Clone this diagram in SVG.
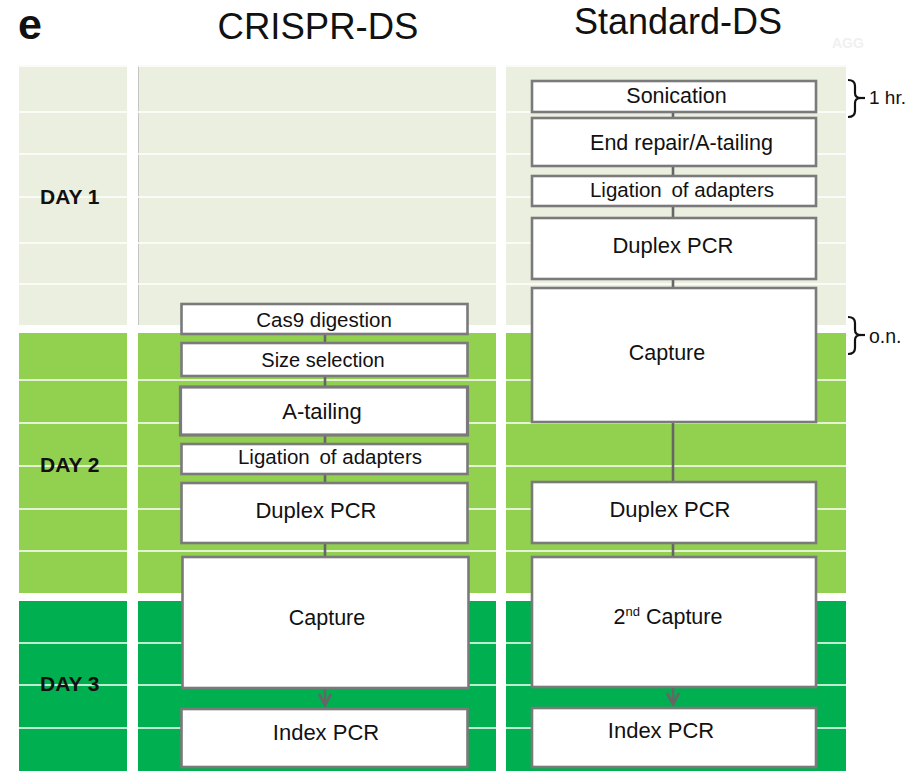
<svg xmlns="http://www.w3.org/2000/svg" width="910" height="771" viewBox="0 0 910 771">
<defs>
<style>
text{font-family:"Liberation Sans",Arial,sans-serif;fill:#111;}
.lbl{font-size:21.5px;text-anchor:middle;}
.day{font-size:21px;font-weight:bold;}
.box{fill:#fff;stroke:#7a7a7a;stroke-width:2.6;}
.con{stroke:#666;stroke-width:2.6;fill:none;}
.row{stroke:#fff;stroke-width:1.6;}
.d1{fill:#ebefdf;}
.d2{fill:#92d050;}
.d3{fill:#00b050;}
.brace{fill:none;stroke:#111;stroke-width:2.2;}
</style>
<marker id="chev" viewBox="-14 -8 16 16" markerWidth="16" markerHeight="16" refX="0" refY="0" orient="auto" markerUnits="userSpaceOnUse">
<path d="M-12,-6 L-1,0 L-12,6" fill="none" stroke="#666" stroke-width="2.8"/>
</marker>
</defs>
<rect width="910" height="771" fill="#fff"/>

<g id="background">
<rect class="d1" x="19" y="65" width="108" height="260"/>
<rect class="d1" x="138" y="65" width="358" height="260"/>
<rect class="d1" x="506" y="65" width="340" height="260"/>
<rect class="d2" x="19" y="333" width="108" height="260"/>
<rect class="d2" x="138" y="333" width="358" height="260"/>
<rect class="d2" x="506" y="333" width="340" height="260"/>
<rect class="d3" x="19" y="601" width="108" height="170"/>
<rect class="d3" x="138" y="601" width="358" height="170"/>
<rect class="d3" x="506" y="601" width="340" height="170"/>
<line x1="138.5" y1="65" x2="138.5" y2="325" stroke="#c4c4c4" stroke-width="1"/>
<g class="row">
<line x1="19" y1="66" x2="846" y2="66"/>
<line x1="19" y1="112" x2="846" y2="112"/>
<line x1="19" y1="154" x2="846" y2="154"/>
<line x1="19" y1="197" x2="846" y2="197"/>
<line x1="19" y1="243" x2="846" y2="243"/>
<line x1="19" y1="284" x2="846" y2="284"/>
<line x1="19" y1="380" x2="846" y2="380"/>
<line x1="19" y1="423" x2="846" y2="423"/>
<line x1="19" y1="466" x2="846" y2="466"/>
<line x1="19" y1="509" x2="846" y2="509"/>
<line x1="19" y1="551" x2="846" y2="551"/>
<line x1="19" y1="643" x2="846" y2="643"/>
<line x1="19" y1="685" x2="846" y2="685"/>
<line x1="19" y1="728" x2="846" y2="728"/>
</g>
</g>

<g id="titles">
<text x="18" y="39" style="font-size:43px;font-weight:bold;">e</text>
<text x="318" y="39" style="font-size:36.5px;text-anchor:middle;">CRISPR-DS</text>
<text x="678" y="34" style="font-size:36px;text-anchor:middle;">Standard-DS</text>
<text x="832" y="48" style="font-size:14px;font-weight:bold;fill:#f0f0f0;">AGG</text>
</g>

<g id="days">
<text class="day" x="40" y="204">DAY 1</text>
<text class="day" x="40" y="472">DAY 2</text>
<text class="day" x="40" y="691">DAY 3</text>
</g>

<g id="connectors">
<line class="con" x1="325" y1="334" x2="325" y2="343"/>
<line class="con" x1="325" y1="376" x2="325" y2="387"/>
<line class="con" x1="325" y1="435" x2="325" y2="444"/>
<line class="con" x1="325" y1="474" x2="325" y2="483"/>
<line class="con" x1="325" y1="543" x2="325" y2="557"/>
<line class="con" x1="325" y1="688" x2="325" y2="706" marker-end="url(#chev)"/>
<line class="con" x1="673" y1="112" x2="673" y2="118"/>
<line class="con" x1="673" y1="166" x2="673" y2="176"/>
<line class="con" x1="673" y1="206" x2="673" y2="218"/>
<line class="con" x1="673" y1="279" x2="673" y2="288"/>
<line class="con" x1="673" y1="422" x2="673" y2="482"/>
<line class="con" x1="673" y1="543" x2="673" y2="557"/>
<line class="con" x1="673" y1="687" x2="673" y2="705" marker-end="url(#chev)"/>
</g>

<g id="crispr-cas9">
<rect class="box" x="181.5" y="304" width="286" height="30"/>
<text class="lbl" x="324" y="327" style="font-size:20.5px;">Cas9 digestion</text>
</g>
<g id="crispr-size">
<rect class="box" x="181.5" y="343" width="286" height="33"/>
<text class="lbl" x="323" y="367" style="font-size:20px;">Size selection</text>
</g>
<g id="crispr-atail">
<rect class="box" x="180.5" y="387" width="287" height="48" style="stroke-width:3.2;"/>
<text class="lbl" x="322" y="419" style="font-size:22px;">A-tailing</text>
</g>
<g id="crispr-ligation">
<rect class="box" x="181.5" y="444" width="286" height="30"/>
<text class="lbl" x="330" y="464" style="font-size:20.5px;">Ligation <tspan dx="4">of adapters</tspan></text>
</g>
<g id="crispr-duplex">
<rect class="box" x="181.5" y="483" width="286" height="60"/>
<text class="lbl" x="316" y="518" style="font-size:22px;">Duplex PCR</text>
</g>
<g id="crispr-capture">
<rect class="box" x="182.5" y="557" width="286" height="131"/>
<text class="lbl" x="327" y="625">Capture</text>
</g>
<g id="crispr-index">
<rect class="box" x="181.5" y="709" width="286" height="58"/>
<text class="lbl" x="326" y="740" style="font-size:22px;">Index PCR</text>
</g>

<g id="std-sonication">
<rect class="box" x="532" y="81" width="284" height="31"/>
<text class="lbl" x="676.5" y="103">Sonication</text>
</g>
<g id="std-endrepair">
<rect class="box" x="532" y="118" width="284" height="48"/>
<text class="lbl" x="681.5" y="150">End repair/A-tailing</text>
</g>
<g id="std-ligation">
<rect class="box" x="532" y="176" width="284" height="30"/>
<text class="lbl" x="682" y="197" style="font-size:20.5px;">Ligation <tspan dx="4">of adapters</tspan></text>
</g>
<g id="std-duplex1">
<rect class="box" x="532" y="218" width="284" height="61"/>
<text class="lbl" x="673" y="253" style="font-size:22px;">Duplex PCR</text>
</g>
<g id="std-capture">
<rect class="box" x="532" y="288" width="284" height="134"/>
<text class="lbl" x="667" y="360">Capture</text>
</g>
<g id="std-duplex2">
<rect class="box" x="532" y="482" width="284" height="61"/>
<text class="lbl" x="670" y="517" style="font-size:22px;">Duplex PCR</text>
</g>
<g id="std-capture2">
<rect class="box" x="532" y="557" width="284" height="130"/>
<text class="lbl" x="668" y="624">2<tspan dy="-8" style="font-size:13px;">nd</tspan><tspan dy="8"> Capture</tspan></text>
</g>
<g id="std-index">
<rect class="box" x="532" y="708" width="284" height="59"/>
<text class="lbl" x="661" y="738" style="font-size:22px;">Index PCR</text>
</g>

<g id="brace-1hr">
<path class="brace" d="M848,80 Q855,80 855,86 L855,93 Q855,98 861,98 Q855,98 855,103 L855,111 Q855,117 848,117"/>
<line class="brace" x1="860" y1="98" x2="865" y2="98"/>
<text x="869" y="104" style="font-size:19px;">1 hr.</text>
</g>
<g id="brace-on">
<path class="brace" d="M848,317 Q855,317 855,323 L855,330 Q855,335 861,335 Q855,335 855,340 L855,348 Q855,354 848,354"/>
<line class="brace" x1="860" y1="335" x2="865" y2="335"/>
<text x="869" y="343" style="font-size:19.5px;">o.n.</text>
</g>
</svg>
